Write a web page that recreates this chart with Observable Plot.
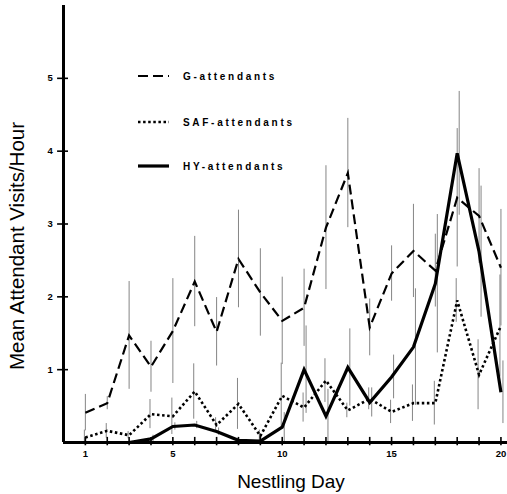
<!DOCTYPE html>
<html><head><meta charset="utf-8">
<script src="https://cdn.jsdelivr.net/npm/d3@7"></script>
<script src="https://cdn.jsdelivr.net/npm/@observablehq/plot@0.6"></script>
<style>
html,body{margin:0;padding:0;background:#fff;}
#wrap{position:relative;width:507px;height:494px;overflow:hidden;}
#wrap svg{display:block;}
.overlay{position:absolute;left:0;top:0;pointer-events:none;}
</style></head><body><div id="wrap"></div>
<script>
// ---- data ----
const days = [1,2,3,4,5,6,7,8,9,10,11,12,13,14,15,16,17,18,19,20];
const seriesNames = ["G-attendants", "SAF-attendants", "HY-attendants"];
const gMean   = [0.41,0.54,1.47,1.04,1.53,2.21,1.52,2.52,2.06,1.67,1.85,2.95,3.70,1.58,2.32,2.63,2.36,3.36,3.11,2.40];
const gErr    = [0.25,0.09,0.74,0.35,0.72,0.62,0.47,0.67,0.60,0.60,0.53,0.85,0.75,0.39,0.38,0.64,0.50,0.95,0.65,0.80];
const safMean = [0.07,0.16,0.10,0.39,0.36,0.70,0.24,0.53,0.09,0.64,0.48,0.85,0.44,0.60,0.42,0.54,0.54,1.95,0.93,1.60];
const safErr  = [0.10,0.10,0.05,0.20,0.25,0.38,0.10,0.35,0.08,0.45,0.20,0.30,0.10,0.15,0.16,0.25,0.30,0.30,0.48,0.70];
const hyMean  = [0,0,0,0.05,0.22,0.24,0.15,0.03,0.02,0.21,1.00,0.36,1.03,0.55,0.90,1.31,2.18,3.97,2.62,0.69];
const hyErr   = [0,0,0,0.05,0.05,0.05,0.05,0,0,0.20,0.60,0.37,0.53,0.20,0.30,0.80,0.95,0.85,0.90,0.43];
const xTickLabels = [1,5,10,15,20];
const yTickLabels = [1,2,3,4,5];
const xTitle = "Nestling Day";
const yTitle = "Mean Attendant Visits/Hour";

// ---- table ----
const means = [gMean, safMean, hyMean];
const errs = [gErr, safErr, hyErr];
const rows = [];
seriesNames.forEach((s, i) => days.forEach((d, j) => rows.push({series: s, day: d, mean: means[i][j], err: errs[i][j]})));

const lineStyle = {
  "G-attendants":   {strokeWidth: 2.2, strokeDasharray: "10,5", dx: 0},
  "SAF-attendants": {strokeWidth: 2.6, strokeDasharray: "2.5,2.6", dx: -1},
  "HY-attendants":  {strokeWidth: 3.2, strokeDasharray: null, dx: 2}
};
const font = "Liberation Sans, Arial, sans-serif";

const marks = [];
// error bars
seriesNames.forEach(s => {
  marks.push(Plot.ruleX(rows.filter(r => r.series === s && r.err > 0), {
    x: "day", y1: r => r.mean - r.err, y2: r => r.mean + r.err,
    stroke: "#858585", strokeWidth: 1, dx: lineStyle[s].dx
  }));
});
// series lines
seriesNames.forEach(s => {
  const st = lineStyle[s];
  marks.push(Plot.line(rows.filter(r => r.series === s), {
    x: "day", y: "mean", stroke: "#000", strokeWidth: st.strokeWidth,
    strokeDasharray: st.strokeDasharray, strokeLinecap: "butt", strokeLinejoin: "miter", strokeMiterlimit: 4
  }));
});
// axes
marks.push(Plot.ruleY([0], {stroke: "#000", strokeWidth: 3}));
marks.push(Plot.ruleX([0], {stroke: "#000", strokeWidth: 3}));
marks.push(Plot.ruleX(days, {x: d => d, y1: -0.045, y2: 0.07, stroke: "#000", strokeWidth: 1.6}));
marks.push(Plot.ruleY(yTickLabels, {y: d => d, x1: -0.27, x2: 0.23, stroke: "#000", strokeWidth: 1.6}));
marks.push(Plot.text(xTickLabels, {x: d => d, frameAnchor: "bottom", dy: 14, text: d => String(d),
  fontSize: 9.5, fontWeight: "bold", fill: "#000", fontFamily: font}));
marks.push(Plot.text(yTickLabels, {y: d => d, frameAnchor: "left", dx: -16, text: d => String(d),
  fontSize: 9.5, fontWeight: "bold", fill: "#000", fontFamily: font}));

const chart = Plot.plot({
  width: 507, height: 494,
  marginLeft: 63, marginRight: 0, marginTop: 5, marginBottom: 52,
  style: {background: "#fff", overflow: "visible"},
  x: {domain: [0, 20.3], axis: null},
  y: {domain: [0, 6], axis: null},
  marks
});
const wrap = document.getElementById("wrap");
wrap.appendChild(chart);

// ---- overlay: axis titles and legend ----
const ov = d3.select(wrap).append("svg").attr("class", "overlay").attr("width", 507).attr("height", 494);
ov.append("text").attr("x", 291).attr("y", 488).attr("text-anchor", "middle")
  .attr("font-family", font).attr("font-size", 19).text(xTitle);
ov.append("text").attr("transform", "translate(24,246) rotate(-90)").attr("text-anchor", "middle")
  .attr("font-family", font).attr("font-size", 20.5).text(yTitle);

const legendRowsY = [76, 122, 166];
seriesNames.forEach((s, i) => {
  const st = lineStyle[s];
  const g = ov.append("g").attr("transform", `translate(0,${legendRowsY[i]})`);
  g.append("line").attr("x1", 138).attr("x2", 169).attr("y1", 0).attr("y2", 0)
    .attr("stroke", "#000").attr("stroke-width", st.strokeWidth)
    .attr("stroke-dasharray", st.strokeDasharray);
  g.append("text").attr("x", 183).attr("y", 0).attr("dy", "0.35em")
    .attr("font-family", font).attr("font-size", 10)
    .attr("font-weight", "bold").attr("letter-spacing", "2.7px").text(s);
});
</script></body></html>
